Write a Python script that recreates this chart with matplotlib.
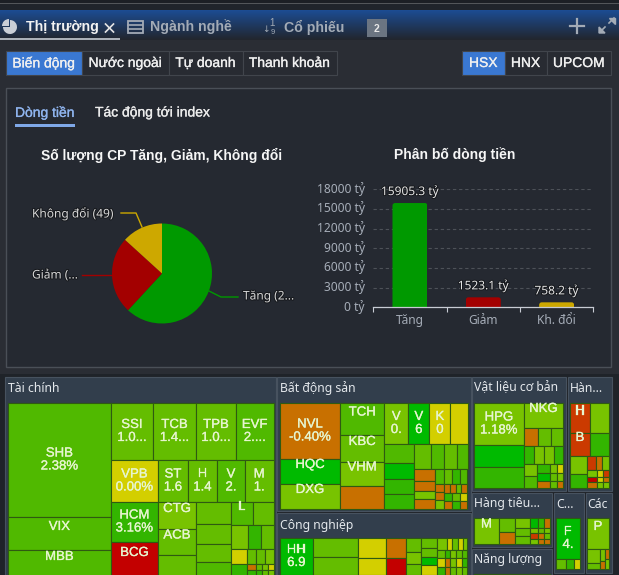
import numpy as np
import matplotlib
matplotlib.use("Agg")
import matplotlib.pyplot as plt
from matplotlib.patches import Rectangle, FancyBboxPatch, Wedge
from matplotlib.transforms import ScaledTranslation
import matplotlib.patheffects as pe

plt.rcParams['font.family'] = ['Liberation Sans', 'DejaVu Sans']
W, H = 619, 575

# ---------- data ----------
pie_labels = ['Tăng (2...', 'Giảm (...', 'Không đổi (49)']
pie_values = [229, 92, 49]
bar_cats = ['Tăng', 'Giảm', 'Kh. đổi']
bar_values = [15905.3, 1523.1, 758.2]
bar_ticks = [0, 3000, 6000, 9000, 12000, 15000, 18000]
state_colors = ['#009900', '#a30000', '#cda800']

tier = dict(a='#50b900', b='#64bd00', c='#78c300', d='#33b500', h='#00ba00',
            y='#d3cf00', o='#c87000', r='#c30000', s='#cb3a00')

def L(v, t, label=''):
    return (v, t, label)
def R(*kids):   # children side by side
    return ('R', kids)
def C(*kids):   # children stacked
    return ('C', kids)

fin_tree = R(
    C(L(11742, 'a', 'SHB\n2.38%'), L(3399, 'a', 'VIX'), L(2781, 'a', 'MBB')),
    C(R(L(2394, 'b', 'SSI\n1.0...'), L(2451, 'b', 'TCB\n1.4...'), L(2280, 'b', 'TPB\n1.0...'), L(2137, 'a', 'EVF\n2....')),
      R(C(L(1974, 'y', 'VPB\n0.00%'), L(1880, 'd', 'HCM\n3.16%'), L(1645, 'r', 'BCG')),
        C(R(L(1260, 'b', 'ST\n1.6'), L(1218, 'b', 'H\n1.4'), L(1176, 'a', 'V\n2.'), L(1197, 'b', 'M\n1.')),
          R(C(L(1026, 'c', 'CTG'), L(988, 'b', 'ACB'), L(836, 'b')),
            C(L(770, 'b'), L(700, 'b'), L(630, 'b'), L(525, 'a')),
            C(R(L(506, 'a', 'L'), L(471, 'b')),
              R(L(408, 'c'), L(312, 'd'), L(300, 'b')),
              R(L(240, 'y'), L(135, 'b'), L(135, 'b'), L(128, 'c')),
              R(L(208, 'd'), C(L(54, 'o'), L(63, 'd')),
                C(R(L(35, 'b'), L(35, 'c'), L(35, 'y')), R(L(41, 'd'), L(41, 'b'), L(41, 'c'))))))))))

re_tree = R(
    C(L(3360, 'o', 'NVL\n-0.40%'), L(1500, 'h', 'HQC'), L(1500, 'c', 'DXG')),
    C(L(1408, 'a', 'TCH'), L(1188, 'b', 'KBC'), L(1056, 'c', 'VHM'), L(1012, 'o')),
    C(R(L(984, 'c', 'V\n0.'), L(861, 'h', 'V\n6'), L(861, 'y', 'K\n0'), L(697, 'y')),
      R(C(L(570, 'a'), L(480, 'h'), L(450, 'd'), L(450, 'd')),
        C(R(L(425, 'b'), L(325, 'a'), L(325, 'b'), L(250, 'a')),
          R(C(L(242, 'o'), L(220, 'o'), L(168, 'c'), L(210, 'o')),
            C(R(L(135, 'a'), L(120, 'b'), L(120, 'd'), L(105, 'a')),
              R(C(L(72, 'o'), L(72, 'o'), L(81, 'c')),
                C(R(L(54, 'o'), L(54, 'o'), L(45, 'b'), L(54, 'o')),
                  R(L(64, 'd'), L(64, 'b'), L(56, 'y')),
                  R(L(64, 'o'), L(64, 'd'), L(56, 'o'))))))))))

ind_tree = R(
    L(1221, 'h', 'HH\n6.9'),
    C(L(874, 'b'), L(828, 'b')),
    C(L(560, 'y'), L(476, 'y')),
    C(L(400, 'o'), L(340, 'r')),
    C(L(224, 'b'), L(192, 'c'), L(176, 'b')),
    C(L(160, 'b'), L(144, 'b'), L(128, 'h'), L(160, 'y')),
    C(R(L(112, 'c'), L(70, 'y'), L(70, 'b'), L(56, 'y'), L(56, 'c')),
      R(L(64, 'b'), L(48, 'd'), L(48, 'c'), L(48, 'b'), L(48, 'a')),
      R(L(64, 'y'), L(48, 'o'), L(48, 'c'), L(48, 'y'), L(48, 'd')),
      R(L(64, 'd'), L(48, 'o'), L(48, 'b'), L(48, 'c'), L(48, 'b'))))

mat_tree = R(
    C(L(2100, 'c', 'HPG\n1.18%'), L(1100, 'h'), L(1050, 'd')),
    C(L(975, 'c', 'NKG'),
      R(L(252, 'o'), L(234, 'b'), L(216, 'b')),
      R(L(180, 'd'), L(180, 'c'), L(180, 'c'), L(162, 'd')),
      R(C(L(156, 'c'), L(156, 'a')),
        C(R(L(117, 'd'), L(63, 'c'), L(54, 'y')),
          R(L(104, 'h'), L(56, 'b'), L(48, 'c')),
          R(L(91, 'o'), L(49, 'b'), L(42, 'o'))))))

han_tree = C(
    R(C(L(600, 's', 'H'), L(460, 's', 'B')), C(L(570, 'c'), L(437, 'd'))),
    R(C(L(306, 'c'), L(238, 'd')),
      C(R(L(126, 's'), L(84, 'o'), L(98, 'c')),
        R(C(L(70, 'c'), L(50, 'r'), L(60, 'o')),
          C(L(42, 'y'), L(30, 'y'), L(36, 'c')),
          C(L(42, 's'), L(30, 'o'), L(36, 'c'))))))

con_tree = R(
    L(650, 'c', 'M'),
    C(L(224, 'b'), L(192, 'o')),
    C(L(150, 'c'), L(120, 'b'), L(120, 'b')),
    C(R(L(80, 'h'), L(60, 'd'), L(60, 'o')),
      R(L(40, 'c'), L(30, 'b'), L(30, 'c')),
      R(L(48, 's'), L(36, 'o'), L(36, 'b')),
      R(L(40, 'c'), L(30, 'o'), L(30, 'o'))))

c_tree = C(L(984, 'h', 'F\n4.'), R(L(100, 'b'), L(80, 'd'), L(60, 'y')))
cac_tree = C(L(682, 'c', 'P'),
             R(C(L(182, 'c'), L(78, 'b')), C(L(54, 'c'), L(36, 'o')), C(L(45, 'o'), L(45, 'c'))))
nl_tree = R(L(50, 'c'), L(30, 'b'), L(26, 'c'))

buttons_left = ['Biến động', 'Nước ngoài', 'Tự doanh', 'Thanh khoản']
buttons_right = ['HSX', 'HNX', 'UPCOM']
sections = ['Tài chính', 'Bất động sản', 'Công nghiệp', 'Vật liệu cơ bản', 'Hàn...',
            'Hàng tiêu...', 'Năng lượng', 'C...', 'Các']

# ---------- page ----------
fig = plt.figure(figsize=(W / 100, H / 100), dpi=100, facecolor='#2a2d34')
bg = fig.add_axes([0, 0, 1, 1], zorder=0)
bg.set_axis_off()

def box(x0, y0, x1, y1, fc, ec='none', lw=0, z=1):
    bg.add_patch(Rectangle((x0, y0), x1 - x0, y1 - y0, fc=fc, ec=ec, lw=lw, zorder=z))

def txt(x, y, s, size=9.6, color='#e8e8e8', ha='left', weight='normal', family=None, z=5, heavy=0.0, **kw):
    t = bg.text(x, y, s, fontsize=size, color=color, ha=ha, va='center', weight=weight,
                family=family or ['Liberation Sans', 'DejaVu Sans'], zorder=z, **kw)
    if heavy:
        t.set_path_effects([pe.withStroke(linewidth=heavy, foreground=color)])
    return t

# top bars
box(0, 0, W, 3.2, '#1c1f25')
box(0, 3.2, W, 4.4, '#53565a')
box(0, 4.4, W, 10, '#20242b')
grad = np.linspace(0, 1, 30)[:, None, None]
c0 = np.array([0x1c, 0x4c, 0x92]) / 255
c1 = np.array([0x22, 0x26, 0x2e]) / 255
bg.imshow(c0 + (c1 - c0) * grad, extent=(0, W, 40, 10), aspect='auto', zorder=1)
bg.set_xlim(0, W)
bg.set_ylim(H, 0)

# tabs
bg.add_patch(Wedge((10, 27), 7, -90, 180, fc='#c9ced6', zorder=5))
bg.add_patch(Wedge((9, 26), 7, 180, 270, fc='#c9ced6', zorder=5))
txt(26, 27, 'Thị trường', 10.2, '#f2f2f2', weight='bold')
bg.plot([105.5, 113.5], [24, 32], color='#e4e4e4', lw=1.2, zorder=5)
bg.plot([105.5, 113.5], [32, 24], color='#e4e4e4', lw=1.2, zorder=5)
box(0, 37.6, 120, 39.8, '#aab0b8', z=3)
bg.add_patch(Rectangle((127.5, 20.5), 15, 12, fc='none', ec='#a3abb6', lw=1.3, zorder=5))
for yy in (24.5, 28.5):
    bg.plot([128, 142], [yy, yy], color='#a3abb6', lw=1.2, zorder=5)
txt(150, 27, 'Ngành nghề', 10.2, '#a3abb6', weight='bold')
txt(266, 30, '↓', 6.5, '#a3abb6', ha='center', family='DejaVu Sans')
txt(272.5, 23, '1', 7, '#a3abb6', ha='center')
txt(272.5, 33, '9', 5.5, '#a3abb6', ha='center')
txt(284, 27, 'Cổ phiếu', 10.2, '#a3abb6', weight='bold')
box(367, 19, 387, 37, '#6b7582', z=3)
txt(377, 28.5, '2', 7.5, '#e8e8e8', ha='center', weight='bold')
bg.plot([570, 584], [25.5, 25.5], color='#a3abb6', lw=1.6, zorder=5)
bg.plot([577, 577], [18.5, 32.5], color='#a3abb6', lw=1.6, zorder=5)
bg.plot([600, 605], [32, 27], color='#a3abb6', lw=1.2, zorder=5)
bg.plot([609, 614], [23, 18], color='#a3abb6', lw=1.2, zorder=5)
bg.fill([599, 605, 599], [27, 33, 33], color='#a3abb6', zorder=5)
bg.fill([609, 615, 615], [18, 18, 24], color='#a3abb6', zorder=5)

# button rows
left_edges = [5.5, 82, 168.5, 242.5, 336.5]
for i, s in enumerate(buttons_left):
    x0, x1 = left_edges[i], left_edges[i + 1]
    box(x0, 51, x1, 74.8, '#3a78d2' if i == 0 else '#282b32', ec='#41454c', lw=0.8, z=2)
    txt((x0 + x1) / 2, 63, s, 10, '#f0f0f0', ha='center', heavy=0.2)
right_edges = [462, 504.5, 546.5, 611]
for i, s in enumerate(buttons_right):
    x0, x1 = right_edges[i], right_edges[i + 1]
    box(x0, 51, x1, 74.8, '#3a78d2' if i == 0 else '#282b32', ec='#41454c', lw=0.8, z=2)
    txt((x0 + x1) / 2, 63, s, 10, '#f0f0f0', ha='center', heavy=0.2)

# panel
box(5.5, 87.5, 611, 366.5, '#252931', ec='#4a4f57', lw=1, z=2)
txt(15, 112.5, 'Dòng tiền', 10, '#8fb4ee', heavy=0.2)
box(15, 124, 75, 127, '#7fa8e8', z=3)
txt(95, 112.5, 'Tác động tới index', 10, '#ececec', heavy=0.2)
txt(162, 155, 'Số lượng CP Tăng, Giảm, Không đổi', 10, '#f6f6f6', ha='center', weight='bold')
txt(455, 155, 'Phân bố dòng tiền', 10, '#f6f6f6', ha='center', weight='bold')

# ---------- pie ----------
ax_p = fig.add_axes([112 / W, (H - 323.5) / H, 100 / W, 100 / H], zorder=2)
ax_p.pie(pie_values, colors=state_colors, startangle=90, counterclock=False, radius=1)
ax_p.set_xlim(-1, 1)
ax_p.set_ylim(-1, 1)
for xs, ys, c in (([209, 221, 238], [291, 297, 297], state_colors[0]),
                  ([112, 82], [275, 275], state_colors[1]),
                  ([142, 136, 121], [227, 213, 213], state_colors[2])):
    bg.plot(xs, ys, color=c, lw=1, zorder=3)
shadow = [pe.withStroke(linewidth=1.4, foreground='#15171b')]
for (x, y, ha), s in zip([(243, 296, 'left'), (32, 275, 'left'), (32, 213, 'left')], pie_labels):
    txt(x, y, s, 8.6, '#d8d8d8', ha=ha, family=['Noto Sans', 'DejaVu Sans'], path_effects=shadow)

# ---------- bars ----------
ax_b = fig.add_axes([373.3 / W, (H - 307.3) / H, 220 / W, 118 / H], zorder=2, facecolor='none')
xpos = np.arange(len(bar_values))
bars = ax_b.bar(xpos, bar_values, width=0.477, color=state_colors, zorder=3, clip_on=True)
ax_b.set_xlim(-0.5, 2.5)
ax_b.set_ylim(0, 18000)
asp = (18000 / 118) / (3 / 220)
for b, v in zip(bars, bar_values):
    clip = FancyBboxPatch((b.get_x(), -1000), b.get_width(), v + 1000,
                          boxstyle='round,pad=0,rounding_size=0.035', mutation_aspect=asp,
                          transform=ax_b.transData)
    b.set_clip_path(clip)
ax_b.set_yticks(bar_ticks)
ax_b.set_yticklabels([f'{t} tỷ' for t in bar_ticks], fontsize=8.6, color='#a6adb8',
                     family=['Noto Sans', 'DejaVu Sans'])
ax_b.set_xticks(xpos)
ax_b.set_xticklabels(bar_cats, fontsize=8.6, color='#a6adb8', family=['Noto Sans', 'DejaVu Sans'])
ax_b.set_xticks([-0.5, 0.5, 1.5, 2.5], minor=True)
ax_b.tick_params(axis='y', length=0, pad=6)
ax_b.tick_params(axis='x', which='major', length=0, pad=5)
ax_b.tick_params(axis='x', which='minor', length=3.5, color='#c8ccd4', width=0.8)
shift = ScaledTranslation(0, 2.2 / 100, fig.dpi_scale_trans)
for lab in ax_b.get_yticklabels():
    lab.set_transform(lab.get_transform() + shift)
ax_b.grid(axis='y', color='#4d5158', ls=(0, (3, 2.5)), lw=0.8, zorder=0)
ax_b.set_axisbelow(True)
for k in ('top', 'right', 'left'):
    ax_b.spines[k].set_visible(False)
ax_b.spines['bottom'].set_color('#c8ccd4')
ax_b.spines['bottom'].set_linewidth(0.9)
ax_b.spines['bottom'].set_zorder(5)
for x, v in zip(xpos, bar_values):
    ax_b.annotate(f'{v} tỷ', (x, v), xytext=(0, 8.6), textcoords='offset points', ha='center',
                  va='center', fontsize=8.6, color='#e6e6e6', zorder=6, annotation_clip=False,
                  family=['Noto Sans', 'DejaVu Sans'], path_effects=shadow)

# ---------- treemap ----------
def total(n):
    return n[0] if n[0] not in ('R', 'C') else sum(total(k) for k in n[1])

def draw(n, x0, y0, x1, y1):
    if n[0] in ('R', 'C'):
        tot = total(n)
        pos = x0 if n[0] == 'R' else y0
        for k in n[1]:
            f = total(k) / tot
            if n[0] == 'R':
                d = (x1 - x0) * f
                draw(k, pos, y0, pos + d, y1)
            else:
                d = (y1 - y0) * f
                draw(k, x0, pos, x1, pos + d)
            pos += d
        return
    v, t, label = n
    bg.add_patch(Rectangle((x0, y0), x1 - x0, y1 - y0, fc=tier[t], ec='#2f5a12', lw=0.8, zorder=4))
    if label:
        cx, cy = (x0 + x1) / 2, (y0 + y1) / 2
        lines = label.split('\n')
        ys = [cy - 6.5, cy + 6.5]
        for s, yy in zip(lines, ys):
            txt(cx, yy, s, 9.5, '#e6f5cf', ha='center', z=6, heavy=0.2)

box(0, 374, W, H, '#1f2329', z=2)
sec_boxes = [(5, 377, 275.5, 580), (277, 377, 470.5, 510.5), (277, 512.5, 470.5, 580),
             (472, 377, 566, 490.5), (568, 377, 611.5, 490.5), (472, 492.5, 552, 547),
             (472, 549, 552, 580), (554, 492.5, 583.5, 573), (585.5, 492.5, 611.5, 573)]
sec_text = [(8, 388), (280, 388), (280, 525), (474, 388), (570, 388), (474, 504), (474, 560),
            (556, 504), (587, 504)]
for (x0, y0, x1, y1), (tx, ty), s in zip(sec_boxes, sec_text, sections):
    box(x0, y0, x1, y1, '#323e4c', ec='#47525f', lw=0.8, z=3)
    txt(tx, ty, s, 8.8, '#e4e8ec', family=['Noto Sans', 'DejaVu Sans'])

draw(fin_tree, 8, 403, 273.5, 577)
draw(re_tree, 280, 403, 467.5, 509)
draw(ind_tree, 280, 538, 467.5, 575)
draw(mat_tree, 474, 403, 563, 488)
draw(han_tree, 570, 403, 609, 488)
draw(con_tree, 474, 518, 550, 544)
draw(c_tree, 556, 518, 580, 569)
draw(cac_tree, 587, 518, 609, 569)
draw(nl_tree, 474, 574, 550, 590)

fig.savefig('out.png', dpi=100, facecolor=fig.get_facecolor())
